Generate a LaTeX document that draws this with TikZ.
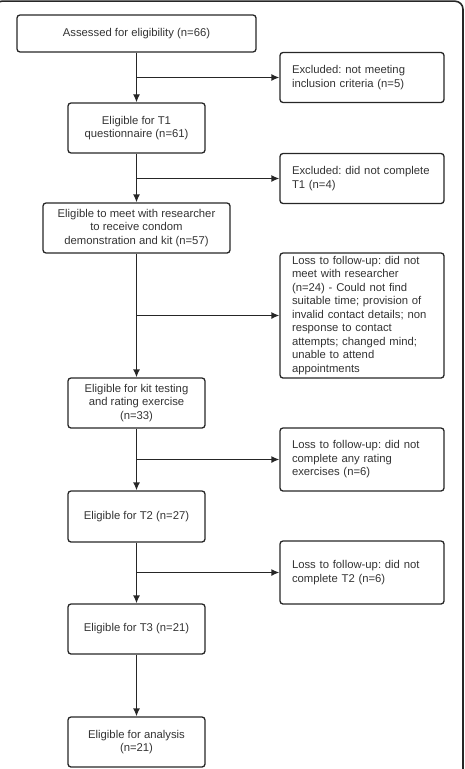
\documentclass[tikz,border=0pt]{standalone}
\usepackage{fontspec}
\setmainfont{Liberation Sans}
\usetikzlibrary{arrows.meta,positioning}

\definecolor{linegray}{HTML}{262626}
\definecolor{textgray}{HTML}{333333}

\frenchspacing
\hyphenpenalty=10000

\tikzset{
  mainbox/.style={draw=linegray,line width=1.3bp,rounded corners=3bp,
    align=center,text=textgray,inner sep=2bp,
    font=\fontsize{11.3bp}{13.5bp}\selectfont},
  sidebox/.style={draw=linegray,line width=1.3bp,rounded corners=3bp,
    minimum width=164bp,text width=140bp,align=left,text=textgray,
    inner xsep=12bp,inner ysep=2bp,
    font=\fontsize{11.3bp}{13.5bp}\selectfont},
  flow/.style={draw=linegray,line width=1.3bp}
}

\begin{document}
\begin{tikzpicture}[x=1bp,y=-1bp,>={Latex[length=8bp,width=7bp]}]
  \useasboundingbox (0,0) rectangle (465,769);
  % Frame of the figure (cut at left and bottom)
  \begin{scope}
    \clip (0,0) rectangle (465,769);
    \draw[linegray,line width=1.6bp,rounded corners=8bp] (-6,1.2) rectangle (463,790);
  \end{scope}
  % Main column
  \node[mainbox,minimum width=239bp,minimum height=37bp] (assess) at (136.5,33.5) {Assessed for eligibility (n=66)};
  \node[mainbox,minimum width=137bp,minimum height=50bp] (quest) at (136.5,128) {Eligible for T1\\questionnaire (n=61)};
  \node[mainbox,minimum width=187bp,minimum height=50bp] (meet) at (136.5,228) {Eligible to meet with researcher\\to receive condom\\demonstration and kit (n=57)};
  \node[mainbox,minimum width=137bp,minimum height=50bp] (kit) at (136.5,403) {Eligible for kit testing\\and rating exercise\\(n=33)};
  \node[mainbox,minimum width=137bp,minimum height=51bp] (tt) at (136.5,516.5) {Eligible for T2 (n=27)};
  \node[mainbox,minimum width=137bp,minimum height=50bp] (ttt) at (136.5,629) {Eligible for T3 (n=21)};
  \node[mainbox,minimum width=137bp,minimum height=50bp] (anal) at (136.5,742) {Eligible for analysis\\(n=21)};
  % Side column
  \node[sidebox,minimum height=50bp] (excla) at (362,77.5) {Excluded: not meeting\\inclusion criteria (n=5)};
  \node[sidebox,minimum height=50bp] (exclb) at (362,178.5) {Excluded: did not complete\\T1 (n=4)};
  \node[sidebox,minimum height=125bp] (lossa) at (362,315.5) {Loss to follow-up: did not\\meet with researcher\\(n=24) - Could not find\\suitable time; provision of\\invalid contact details; non\\response to contact\\attempts; changed mind;\\unable to attend\\appointments};
  \node[sidebox,minimum height=63bp] (lossb) at (362,459.5) {Loss to follow-up: did not\\complete any rating\\exercises (n=6)};
  \node[sidebox,minimum height=63bp] (lossc) at (362,572.5) {Loss to follow-up: did not\\complete T2 (n=6)};
  % Connectors
  \draw[flow,->] (assess) -- (quest);
  \draw[flow,->] (quest) -- (meet);
  \draw[flow,->] (meet) -- (kit);
  \draw[flow,->] (kit) -- (tt);
  \draw[flow,->] (tt) -- (ttt);
  \draw[flow,->] (ttt) -- (anal);
  \draw[flow,->] (assess |- excla.west) -- (excla.west);
  \draw[flow,->] (quest |- exclb.west) -- (exclb.west);
  \draw[flow,->] (meet |- lossa.west) -- (lossa.west);
  \draw[flow,->] (kit |- lossb.west) -- (lossb.west);
  \draw[flow,->] (tt |- lossc.west) -- (lossc.west);
\end{tikzpicture}
\end{document}
